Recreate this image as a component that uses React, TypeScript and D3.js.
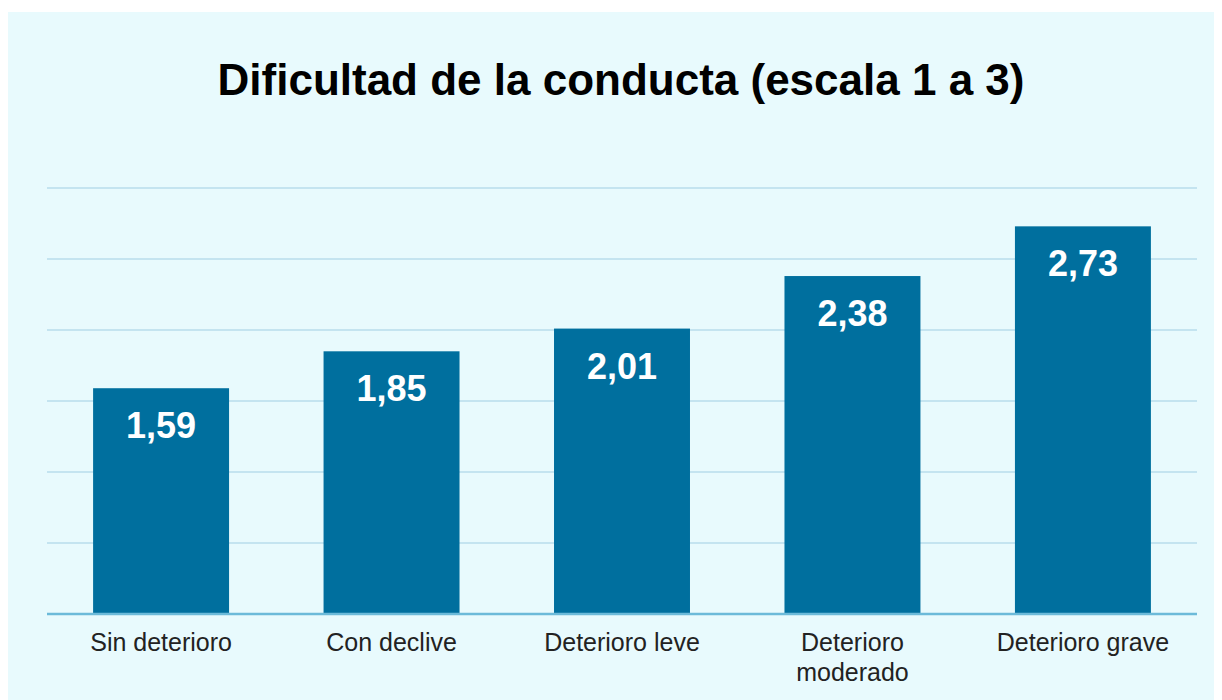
import * as d3 from "d3";
import { useEffect, useRef } from "react";

const categories = [
  "Sin deterioro",
  "Con declive",
  "Deterioro leve",
  "Deterioro\nmoderado",
  "Deterioro grave",
];
const values = [1.59, 1.85, 2.01, 2.38, 2.73];
const valueLabels = ["1,59", "1,85", "2,01", "2,38", "2,73"];
const gridValues = [0.5, 1, 1.5, 2, 2.5, 3];
const title = "Dificultad de la conducta (escala 1 a 3)";

const App = () => {
  const ref = useRef<SVGSVGElement>(null);

  useEffect(() => {
    const svg = d3.select(ref.current);
    svg.selectAll("*").remove();
    const width = 1214;
    const height = 692;
    const font = "'Liberation Sans', Arial, Helvetica, sans-serif";

    svg.attr("width", width).attr("height", height);

    svg
      .append("rect")
      .attr("x", 0)
      .attr("y", 4)
      .attr("width", width)
      .attr("height", height - 4)
      .attr("fill", "#e8fafd");

    const margin = { left: 39, right: 25, top: 180, bottom: 86 };

    const xScale = d3
      .scaleBand()
      .domain(categories)
      .range([margin.left, width - margin.right])
      .paddingInner(0.41)
      .paddingOuter(0.2);

    const yScale = d3
      .scaleLinear()
      .domain([0, 3])
      .range([height - margin.bottom, margin.top]);

    // gridlines
    svg
      .append("g")
      .selectAll("line")
      .data(gridValues)
      .enter()
      .append("line")
      .attr("x1", margin.left)
      .attr("x2", width - margin.right)
      .attr("y1", (d) => yScale(d))
      .attr("y2", (d) => yScale(d))
      .attr("stroke", "#c4e4f0")
      .attr("stroke-width", 2);

    svg
      .append("g")
      .selectAll("rect")
      .data(values)
      .enter()
      .append("rect")
      .attr("x", (_, i) => xScale(categories[i])!)
      .attr("y", (d) => yScale(d))
      .attr("width", xScale.bandwidth())
      .attr("height", (d) => yScale(0) - yScale(d))
      .attr("fill", "#006f9e");

    // baseline
    svg
      .append("line")
      .attr("x1", margin.left)
      .attr("x2", width - margin.right)
      .attr("y1", yScale(0))
      .attr("y2", yScale(0))
      .attr("stroke", "#6cbad9")
      .attr("stroke-width", 2.5);

    svg
      .append("g")
      .selectAll("text")
      .data(values)
      .enter()
      .append("text")
      .attr("x", (_, i) => xScale(categories[i])! + xScale.bandwidth() / 2)
      .attr("y", (d) => yScale(d) + 50)
      .attr("text-anchor", "middle")
      .attr("font-family", font)
      .attr("font-weight", "bold")
      .attr("font-size", 36)
      .attr("fill", "#ffffff")
      .text((_, i) => valueLabels[i]);

    const labels = svg
      .append("g")
      .selectAll("text")
      .data(categories)
      .enter()
      .append("text")
      .attr("x", (d) => xScale(d)! + xScale.bandwidth() / 2)
      .attr("y", yScale(0) + 37)
      .attr("text-anchor", "middle")
      .attr("font-family", font)
      .attr("font-size", 25)
      .attr("fill", "#222222");

    labels
      .selectAll("tspan")
      .data((d) => d.split("\n").map((line) => ({ line, x: xScale(d)! + xScale.bandwidth() / 2 })))
      .enter()
      .append("tspan")
      .attr("x", (d) => d.x)
      .attr("dy", (_, i) => (i === 0 ? 0 : 30))
      .text((d) => d.line);

    svg
      .append("text")
      .attr("x", 613)
      .attr("y", 87)
      .attr("text-anchor", "middle")
      .attr("font-family", font)
      .attr("font-weight", "bold")
      .attr("font-size", 44)
      .attr("fill", "#000000")
      .text(title);
  }, []);

  return <svg ref={ref} style={{ display: "block" }}></svg>;
};

export default App;
